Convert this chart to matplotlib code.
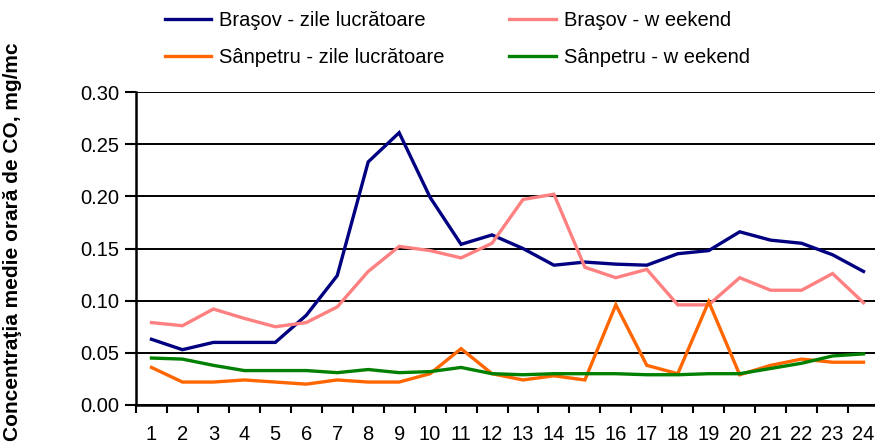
import numpy as np
import matplotlib
matplotlib.use('Agg')
import matplotlib.pyplot as plt

plt.rcParams['font.family'] = ['Liberation Sans', 'DejaVu Sans']

# ==================================================
hours = list(range(1, 25))

brasov_work = [0.063, 0.053, 0.060, 0.060, 0.060, 0.086, 0.124, 0.233, 0.261, 0.199,
               0.154, 0.163, 0.150, 0.134, 0.137, 0.135, 0.134, 0.145, 0.148, 0.166,
               0.158, 0.155, 0.144, 0.128]
brasov_wknd = [0.079, 0.076, 0.092, 0.083, 0.075, 0.079, 0.094, 0.128, 0.152, 0.148,
               0.141, 0.155, 0.197, 0.202, 0.132, 0.122, 0.130, 0.096, 0.096, 0.122,
               0.110, 0.110, 0.126, 0.098]
sanp_work   = [0.036, 0.022, 0.022, 0.024, 0.022, 0.020, 0.024, 0.022, 0.022, 0.030,
               0.054, 0.030, 0.024, 0.028, 0.024, 0.096, 0.038, 0.030, 0.099, 0.029,
               0.038, 0.044, 0.041, 0.041]
sanp_wknd   = [0.045, 0.044, 0.038, 0.033, 0.033, 0.033, 0.031, 0.034, 0.031, 0.032,
               0.036, 0.030, 0.029, 0.030, 0.030, 0.030, 0.029, 0.029, 0.030, 0.030,
               0.035, 0.040, 0.047, 0.049]

labels = ['Braşov - zile lucrătoare', 'Braşov - w eekend',
          'Sânpetru - zile lucrătoare', 'Sânpetru - w eekend']
colors = ['#000080', '#FF8080', '#FF6600', '#008000']
# ==================================================

fig = plt.figure(figsize=(8.75, 4.43), dpi=100)
ax = fig.add_axes([136/875, 38/443, 743/875, 313/443])

lines = []
for vals, lab, col in zip([brasov_work, brasov_wknd, sanp_work, sanp_wknd], labels, colors):
    ln, = ax.plot(hours, vals, color=col, lw=2.4, label=lab, solid_joinstyle='miter')
    lines.append(ln)

ax.set_xlim(0.5, 24.5)
ax.set_ylim(0, 0.30)
ax.set_yticks(np.arange(0, 0.301, 0.05))
ax.yaxis.set_major_formatter(plt.FuncFormatter(lambda v, _: f'{v:.2f}'))
ax.yaxis.grid(True, color='black', lw=1.4)
ax.set_axisbelow(True)

ax.set_xticks(np.arange(0.5, 25, 1))
ax.set_xticklabels([])
ax.set_xticks(hours, minor=True)
ax.set_xticklabels([str(h) for h in hours], minor=True)
ax.tick_params(axis='x', which='major', direction='out', length=6, width=1.5)
ax.tick_params(axis='x', which='minor', length=0, pad=14.5, labelsize=14.5)
ax.tick_params(axis='y', direction='out', length=8, width=1.5, pad=4, labelsize=14.5)

for s in ['top', 'right']:
    ax.spines[s].set_visible(False)
for s in ['left', 'bottom']:
    ax.spines[s].set_linewidth(1.8)

fig.text(13/875, 1 - 242/443, 'Concentraţia medie orară de CO, mg/mc', rotation=90,
         ha='center', va='center', fontsize=15, fontweight='bold')

handles = [lines[0], lines[2], lines[1], lines[3]]
fig.legend(handles=handles, labels=[h.get_label() for h in handles], ncol=2,
           loc='upper left', bbox_to_anchor=(165/875, 1 - 11/443), frameon=False,
           fontsize=14.5, handlelength=2.3, handletextpad=0.4, columnspacing=3.2,
           labelspacing=0.88, borderpad=0, borderaxespad=0)

plt.savefig('out.png', dpi=100)
